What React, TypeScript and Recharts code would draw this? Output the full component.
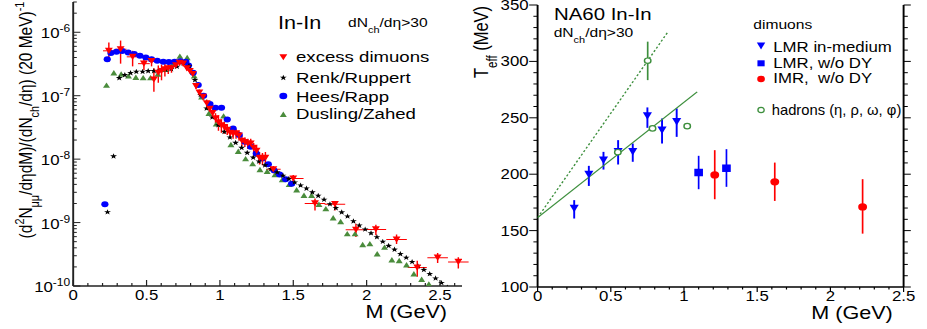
import React from 'react';
import { ScatterChart, Scatter, XAxis, YAxis, ErrorBar, Legend } from 'recharts';

const FONT = '"Liberation Sans", Arial, Helvetica, sans-serif';

// ---------------- Left panel data ----------------
const excessMass = [0.243, 0.323, 0.405, 0.482, 0.534, 0.55, 0.58, 0.602, 0.625, 0.648, 0.67, 0.7, 0.725, 0.75, 0.775, 0.795, 0.815, 0.837, 0.86, 0.885, 0.91, 0.93, 0.95, 0.97, 0.99, 1.01, 1.03, 1.05, 1.07, 1.09, 1.11, 1.13, 1.15, 1.17, 1.19, 1.21, 1.23, 1.25, 1.27, 1.29, 1.31, 1.364, 1.5, 1.648, 1.784, 1.927, 2.063, 2.204, 2.345, 2.484, 2.625];
const excessYield = [5.1e-7, 5.4e-7, 4.1e-7, 3.2e-7, 3.5e-7, 1.8e-7, 2.3e-7, 2.45e-7, 2.6e-7, 2.7e-7, 2.7e-7, 3.0e-7, 3.3e-7, 3.2e-7, 2.7e-7, 2.45e-7, 2.2e-7, 1.42e-7, 1.12e-7, 9.6e-8, 7.6e-8, 6.2e-8, 5.3e-8, 4.4e-8, 3.8e-8, 3.4e-8, 3.2e-8, 2.9e-8, 2.6e-8, 2.5e-8, 2.55e-8, 2.35e-8, 1.95e-8, 1.85e-8, 1.75e-8, 1.75e-8, 1.5e-8, 1.35e-8, 1.05e-8, 1.0e-8, 1.05e-8, 6.9e-9, 4.95e-9, 2.0e-9, 1.95e-9, 7.7e-10, 7.8e-10, 5.4e-10, 1.95e-10, 2.8e-10, 2.4e-10];
const excessLow = [3.4e-7, 3.2e-7, 2.9e-7, 2.55e-7, 2.9e-7, 1.15e-7, 1.6e-7, 1.75e-7, 2.0e-7, 2.2e-7, 2.3e-7, 2.7e-7, 3.0e-7, 2.9e-7, 2.5e-7, 2.25e-7, 2.0e-7, 1.28e-7, 1.0e-7, 8.5e-8, 6.6e-8, 5.3e-8, 4.5e-8, 3.6e-8, 2.8e-8, 2.6e-8, 2.5e-8, 2.4e-8, 2.1e-8, 2.1e-8, 2.1e-8, 1.95e-8, 1.6e-8, 1.55e-8, 1.45e-8, 1.45e-8, 1.2e-8, 1.1e-8, 8.2e-9, 8.0e-9, 8.5e-9, 6.0e-9, 4.3e-9, 1.55e-9, 1.55e-9, 5.9e-10, 6.3e-10, 4.6e-10, 1.4e-10, 2.3e-10, 1.88e-10];
const excessHigh = [6.9e-7, 7.4e-7, 5.1e-7, 3.9e-7, 4.1e-7, 2.7e-7, 3.0e-7, 3.1e-7, 3.2e-7, 3.2e-7, 3.1e-7, 3.4e-7, 3.6e-7, 3.5e-7, 2.95e-7, 2.65e-7, 2.4e-7, 1.58e-7, 1.25e-7, 1.08e-7, 8.7e-8, 7.2e-8, 6.2e-8, 5.3e-8, 4.9e-8, 4.2e-8, 3.9e-8, 3.5e-8, 3.1e-8, 3.0e-8, 3.0e-8, 2.8e-8, 2.35e-8, 2.2e-8, 2.1e-8, 2.1e-8, 1.8e-8, 1.65e-8, 1.3e-8, 1.25e-8, 1.3e-8, 7.8e-9, 5.6e-9, 2.4e-9, 2.15e-9, 9.6e-10, 9.2e-10, 6.5e-10, 2.5e-10, 3.3e-10, 2.85e-10];
const excessHalfBin = [0.04, 0.04, 0.04, 0.04, 0.02, 0.01, 0.01, 0.01, 0.01, 0.01, 0.01, 0.01, 0.01, 0.01, 0.01, 0.01, 0.01, 0.01, 0.01, 0.01, 0.01, 0.01, 0.01, 0.01, 0.01, 0.01, 0.01, 0.01, 0.01, 0.01, 0.01, 0.01, 0.01, 0.01, 0.01, 0.01, 0.01, 0.01, 0.01, 0.01, 0.01, 0.05, 0.07, 0.07, 0.07, 0.07, 0.07, 0.07, 0.065, 0.07, 0.07];

const renkMass = [0.234, 0.275, 0.314, 0.352, 0.391, 0.43, 0.473, 0.511, 0.55, 0.591, 0.63, 0.668, 0.707, 0.75, 0.789, 0.83, 0.868, 0.909, 0.948, 0.989, 1.03, 1.068, 1.107, 1.148, 1.186, 1.227, 1.266, 1.307, 1.348, 1.39, 1.43, 1.47, 1.51, 1.55, 1.59, 1.63, 1.67, 1.71, 1.75, 1.79, 1.83, 1.87, 1.91, 1.95, 1.99, 2.03, 2.07, 2.11, 2.15, 2.19, 2.23, 2.27, 2.31, 2.35, 2.39, 2.43, 2.47, 2.51, 2.55];
const renkYield = [1.46e-9, 1.11e-8, 1.9e-7, 2.12e-7, 2.28e-7, 2.39e-7, 2.39e-7, 2.45e-7, 2.45e-7, 2.5e-7, 2.55e-7, 2.63e-7, 2.87e-7, 3.24e-7, 2.94e-7, 1.77e-7, 1.03e-7, 6.3e-8, 4.55e-8, 3.44e-8, 2.7e-8, 2.2e-8, 1.81e-8, 1.51e-8, 1.26e-8, 1.06e-8, 9.2e-9, 8.0e-9, 7.0e-9, 6.2e-9, 5.5e-9, 4.9e-9, 4.3e-9, 3.85e-9, 3.45e-9, 3.0e-9, 2.65e-9, 2.3e-9, 1.95e-9, 1.7e-9, 1.45e-9, 1.25e-9, 1.05e-9, 9.0e-10, 7.8e-10, 6.8e-10, 5.9e-10, 5.0e-10, 4.3e-10, 3.75e-10, 3.2e-10, 2.8e-10, 2.4e-10, 2.05e-10, 1.8e-10, 1.55e-10, 1.32e-10, 1.12e-10, 9.5e-11];

const heesMass = [0.216, 0.232, 0.257, 0.295, 0.334, 0.375, 0.416, 0.455, 0.495, 0.534, 0.573, 0.614, 0.652, 0.691, 0.73, 0.768, 0.786, 0.818, 0.852, 0.889, 0.932, 0.97, 1.011, 1.05, 1.09, 1.132, 1.17, 1.21, 1.248, 1.289, 1.33, 1.368, 1.407, 1.448, 1.489];
const heesYield = [1.95e-9, 3.75e-7, 4.7e-7, 4.95e-7, 5.05e-7, 4.8e-7, 4.55e-7, 4.27e-7, 4.0e-7, 3.75e-7, 3.57e-7, 3.44e-7, 3.4e-7, 3.44e-7, 3.5e-7, 3.44e-7, 3.0e-7, 2.3e-7, 1.47e-7, 1.0e-7, 7.4e-8, 6.46e-8, 6.46e-8, 4.2e-8, 3.05e-8, 2.4e-8, 1.88e-8, 1.57e-8, 1.23e-8, 1.02e-8, 8.3e-9, 6.7e-9, 5.7e-9, 4.8e-9, 4.08e-9];

const duslingMass = [0.227, 0.277, 0.327, 0.377, 0.427, 0.477, 0.527, 0.577, 0.627, 0.677, 0.727, 0.777, 0.825, 0.875, 0.925, 0.975, 1.025, 1.075, 1.125, 1.175, 1.223, 1.273, 1.322, 1.375, 1.425, 1.472, 1.523, 1.573, 1.625, 1.675, 1.722, 1.772, 1.823, 1.868, 1.921, 1.973, 2.022, 2.072, 2.122, 2.172, 2.222, 2.272, 2.322, 2.375, 2.424];
const duslingYield = [1.47e-7, 2.3e-7, 2.2e-7, 2.05e-7, 1.95e-7, 1.93e-7, 1.93e-7, 2.2e-7, 2.6e-7, 3.1e-7, 4.2e-7, 4.0e-7, 2.05e-7, 9.6e-8, 5.3e-8, 3.6e-8, 4.8e-8, 1.7e-8, 1.33e-8, 1.02e-8, 8.5e-9, 6.85e-9, 6.45e-9, 5.7e-9, 4.77e-9, 4.0e-9, 3.3e-9, 2.7e-9, 2.7e-9, 1.94e-9, 1.66e-9, 1.19e-9, 1.04e-9, 6.7e-10, 6.7e-10, 4.5e-10, 4.65e-10, 3.23e-10, 4.1e-10, 2.6e-10, 2.53e-10, 2.16e-10, 1.56e-10, 1.28e-10, 1.08e-10];

const massMajorTicks = [0, 0.5, 1, 1.5, 2, 2.5];
const massTickLabels = ['0', '0.5', '1', '1.5', '2', '2.5'];
const logDecades = [-10, -9, -8, -7, -6];

// ---------------- Right panel data ----------------
const lmrMass = [0.25, 0.35, 0.45, 0.55, 0.65, 0.75, 0.85, 0.95];
const lmrTeff = [169.5, 199.7, 212.4, 219.8, 219.8, 251.5, 239, 246.4];
const lmrLow = [160.7, 189.6, 204.1, 208.6, 211, 241.1, 227.2, 233.1];
const lmrHigh = [177, 207.4, 219.8, 230.2, 227.2, 259.2, 249.4, 258.3];

const lmrDyMass = [1.1, 1.29];
const lmrDyTeff = [201.5, 205.3];
const lmrDyLow = [186.7, 188.8];
const lmrDyHigh = [216.3, 222.2];

const imrMass = [1.21, 1.62, 2.22];
const imrTeff = [199.4, 193.2, 171];
const imrLow = [177.8, 176.3, 147.3];
const imrHigh = [221.3, 210.3, 195.6];

const hadronMass = [0.548, 0.752, 0.785, 1.022];
const hadronTeff = [219.5, 300.6, 240.6, 242.6];
const hadronLow = [219.5, 283.4, 240.6, 242.6];
const hadronHigh = [219.5, 317.5, 240.6, 242.6];

const fitSolidMass = [0, 1.09];
const fitSolidTeff = [161.5, 273];
const fitDottedMass = [0, 0.892];
const fitDottedTeff = [161.5, 326.5];

const teffMajorTicks = [100, 150, 200, 250, 300, 350];
const teffTickLabels = ['100', '150', '200', '250', '300', '350'];

// ---------------- Tables ----------------
const excessData = excessMass.map((m, i) => ({
  m,
  v: excessYield[i],
  ey: [excessYield[i] - excessLow[i], excessHigh[i] - excessYield[i]],
  ex: excessHalfBin[i],
}));
const renkData = renkMass.map((m, i) => ({ m, v: renkYield[i] }));
const heesData = heesMass.map((m, i) => ({ m, v: heesYield[i] }));
const duslingData = duslingMass.map((m, i) => ({ m, v: duslingYield[i] }));

const withErr = (ms: number[], ts: number[], lo: number[], hi: number[]) =>
  ms.map((m, i) => ({ m, t: ts[i], et: [ts[i] - lo[i], hi[i] - ts[i]] }));
const lmrData = withErr(lmrMass, lmrTeff, lmrLow, lmrHigh);
const lmrDyData = withErr(lmrDyMass, lmrDyTeff, lmrDyLow, lmrDyHigh);
const imrData = withErr(imrMass, imrTeff, imrLow, imrHigh);
const hadronData = withErr(hadronMass, hadronTeff, hadronLow, hadronHigh);
const fitSolid = fitSolidMass.map((m, i) => ({ m, t: fitSolidTeff[i] }));
const fitDotted = fitDottedMass.map((m, i) => ({ m, t: fitDottedTeff[i] }));

const r1 = (v: number) => Math.round(v * 10) / 10;
const leftMassTicks: number[] = [];
for (let i = 0; i <= 26; i++) leftMassTicks.push(r1(i / 10));
const rightMassTicks: number[] = [];
for (let i = 0; i <= 25; i++) rightMassTicks.push(r1(i / 10));
const logTicks: number[] = [];
logDecades.forEach((d) => {
  for (let k = 1; k <= 9; k++) {
    const v = Number((k * Math.pow(10, d)).toPrecision(6));
    if (v <= 3e-6) logTicks.push(v);
  }
});
const teffTicks: number[] = [];
for (let v = 100; v <= 350; v += 10) teffTicks.push(v);

const LEFT_DOMAIN_X: [number, number] = [0, 2.65];
const LEFT_DOMAIN_Y: [number, number] = [1e-10, 3e-6];

// ---------------- Shapes ----------------
const downTri = (hw: number, h: number, fill: string) => (p: any) => {
  const { cx, cy } = p;
  if (cx == null || cy == null) return <g />;
  return <polygon points={`${cx - hw},${cy - h / 2} ${cx + hw},${cy - h / 2} ${cx},${cy + h / 2}`} fill={fill} />;
};
const upTri = (hw: number, h: number, fill: string) => (p: any) => {
  const { cx, cy } = p;
  if (cx == null || cy == null) return <g />;
  return <polygon points={`${cx - hw},${cy + h / 2} ${cx + hw},${cy + h / 2} ${cx},${cy - h / 2}`} fill={fill} />;
};
const starD = (cx: number, cy: number, R: number, r: number) => {
  let d = '';
  for (let i = 0; i < 10; i++) {
    const a = -Math.PI / 2 + (i * Math.PI) / 5;
    const rad = i % 2 === 0 ? R : r;
    d += (i === 0 ? 'M' : 'L') + (cx + rad * Math.cos(a)).toFixed(2) + ',' + (cy + rad * Math.sin(a)).toFixed(2);
  }
  return d + 'Z';
};
const starShape = (p: any) => {
  const { cx, cy } = p;
  if (cx == null || cy == null) return <g />;
  return <path d={starD(cx, cy, 3, 1.2)} fill="#000" />;
};
const dot = (r: number, fill: string, stroke?: string) => (p: any) => {
  const { cx, cy } = p;
  if (cx == null || cy == null) return <g />;
  return <circle cx={cx} cy={cy} r={r} fill={fill} stroke={stroke || 'none'} strokeWidth={1.2} />;
};
const square = (w: number, h: number, fill: string) => (p: any) => {
  const { cx, cy } = p;
  if (cx == null || cy == null) return <g />;
  return <rect x={cx - w / 2} y={cy - h / 2} width={w} height={h} fill={fill} />;
};
const noShape = () => <g />;

// ---------------- Ticks ----------------
const LeftXTick = (p: any) => {
  const { x, y, payload } = p;
  const v = payload.value;
  const idx = massMajorTicks.findIndex((t) => Math.abs(t - v) < 1e-6);
  const major = idx >= 0;
  return (
    <g>
      <line x1={x} x2={x} y1={y} y2={y - (major ? 6 : 3)} stroke="#222" strokeWidth={1} />
      {major && (
        <text x={x} y={y + 14} textAnchor="middle" fontSize={14} fontFamily={FONT} fill="#000">
          {massTickLabels[idx]}
        </text>
      )}
    </g>
  );
};
const LeftYTick = (p: any) => {
  const { x, y, payload } = p;
  const e = Math.log10(payload.value);
  const re = Math.round(e);
  const major = Math.abs(e - re) < 1e-6;
  return (
    <g>
      <line x1={x} x2={x + (major ? 6 : 3)} y1={y} y2={y} stroke="#222" strokeWidth={1} />
      {major && (
        <text x={x - 2.5} y={y + 6} textAnchor="end" fontSize={14} fontFamily={FONT} fill="#000">
          10<tspan dy={-6} fontSize={10}>{String(re)}</tspan>
        </text>
      )}
    </g>
  );
};
const RightXTick = (p: any) => {
  const { x, y, payload } = p;
  const v = payload.value;
  const idx = massMajorTicks.findIndex((t) => Math.abs(t - v) < 1e-6);
  const major = idx >= 0;
  return (
    <g>
      <line x1={x} x2={x} y1={y} y2={y + (major ? 5 : 2.5)} stroke="#000" strokeWidth={1} />
      {major && (
        <text x={x} y={y + 14.5} textAnchor="middle" fontSize={14} fontFamily={FONT} fill="#000">
          {massTickLabels[idx]}
        </text>
      )}
    </g>
  );
};
const RightTopTick = (p: any) => {
  const { x, y, payload } = p;
  const v = payload.value;
  const major = massMajorTicks.some((t) => Math.abs(t - v) < 1e-6);
  return <line x1={x} x2={x} y1={y} y2={y - (major ? 4 : 2)} stroke="#000" strokeWidth={1} />;
};
const RightYTick = (p: any) => {
  const { x, y, payload } = p;
  const v = payload.value;
  const idx = teffMajorTicks.indexOf(v);
  const major = idx >= 0;
  return (
    <g>
      <line x1={x} x2={x - (major ? 7 : 3.5)} y1={y} y2={y} stroke="#000" strokeWidth={1} />
      {major && (
        <text x={x - 7.5} y={y + 5} textAnchor="end" fontSize={14} fontFamily={FONT} fill="#000">
          {teffTickLabels[idx]}
        </text>
      )}
    </g>
  );
};
const RightSideTick = (p: any) => {
  const { x, y, payload } = p;
  const major = teffMajorTicks.indexOf(payload.value) >= 0;
  return <line x1={x} x2={x + (major ? 6 : 3.5)} y1={y} y2={y} stroke="#000" strokeWidth={1} />;
};

// ---------------- Overlays (titles, legends) ----------------
const SUB = { fontSize: '70%' } as const;

const LeftOverlay = () => (
  <svg width={392} height={329} style={{ position: 'absolute', left: 0, top: 0, overflow: 'visible' }} fontFamily={FONT}>
    <text transform="translate(26.5,120) rotate(-90)" textAnchor="middle" fontSize={15.5} fill="#000">
      (d<tspan baselineShift="super" style={SUB}>2</tspan>N<tspan baselineShift="sub" style={SUB}>μμ</tspan>/dηdM)/(dN
      <tspan baselineShift="sub" style={SUB}>ch</tspan>/dη) (20 MeV)<tspan baselineShift="super" style={SUB}>-1</tspan>
    </text>
    <text x={372.5} y={318.5} textAnchor="end" fontSize={18} fill="#000">M (GeV)</text>
    <text x={231.7} y={29.3} fontSize={18} fill="#000">In-In</text>
    <text x={290} y={27.3} fontSize={13} fill="#000">
      dN<tspan baselineShift="sub" style={SUB}>ch</tspan>/dη&gt;30
    </text>
    <polygon points="232.8,54.3 239.4,54.3 236.1,60.3" fill="#ff0000" />
    <path d={starD(236.1, 77.7, 3, 1.2)} fill="#000" />
    <circle cx={236.1} cy={96} r={3.3} fill="#0000ff" />
    <polygon points="233.2,117 239,117 236.1,111.5" fill="#4a8c3c" />
    <text x={246.7} y={62} fontSize={15.5} fill="#000">excess dimuons</text>
    <text x={246.7} y={83} fontSize={15.5} fill="#000">Renk/Ruppert</text>
    <text x={246.7} y={102} fontSize={15.5} fill="#000">Hees/Rapp</text>
    <text x={246.7} y={119} fontSize={15.5} fill="#000">Dusling/Zahed</text>
  </svg>
);

const RightOverlay = () => (
  <svg width={381} height={329} style={{ position: 'absolute', left: 0, top: 0, overflow: 'visible' }} fontFamily={FONT}>
    <text transform="translate(15,42) rotate(-90)" textAnchor="middle" fontSize={16.5} fill="#000">
      T<tspan baselineShift="sub" style={SUB}>eff</tspan> (MeV)
    </text>
    <text x={352} y={319} textAnchor="end" fontSize={18} fill="#000">M (GeV)</text>
    <text x={69.7} y={20} fontSize={17} fill="#000">NA60 In-In</text>
    <text x={69.4} y={37.3} fontSize={13} fill="#000">
      dN<tspan baselineShift="sub" style={SUB}>ch</tspan>/dη&gt;30
    </text>
    <text x={235.8} y={29.5} fontSize={13} fill="#000">dimuons</text>
    <polygon points="238.7,42.5 245.7,42.5 242.2,49.5" fill="#0000ff" />
    <rect x={239.2} y={60.3} width={6} height={6} fill="#0000ff" />
    <circle cx={242.2} cy={79} r={3.2} fill="#ff0000" />
    <circle cx={242.2} cy={110} r={2.6} fill="#fff" stroke="#3d8f3d" strokeWidth={1.1} />
    <text x={252.4} y={51.7} fontSize={14} fill="#000">LMR in-medium</text>
    <text x={252.4} y={68.3} fontSize={14} fill="#000">LMR, w/o DY</text>
    <text x={252.4} y={83.3} fontSize={14} fill="#000" style={{ whiteSpace: 'pre' }}>IMR,  w/o DY</text>
    <text x={251.1} y={115} fontSize={14} fill="#000" textLength={108} lengthAdjust="spacingAndGlyphs">hadrons (η, ρ, ω, φ)</text>
  </svg>
);

const overlayWrap = (w: number) => ({
  position: 'absolute' as const,
  left: 0,
  top: 0,
  width: w,
  height: 329,
  pointerEvents: 'none' as const,
});

// ---------------- Panels ----------------
const LeftPanel = () => (
  <ScatterChart width={392} height={329} margin={{ top: 2, right: 7, bottom: 0, left: 0 }} style={{ fontFamily: FONT }}>
    <XAxis
      type="number"
      dataKey="m"
      domain={LEFT_DOMAIN_X}
      allowDataOverflow
      ticks={leftMassTicks}
      interval={0}
      tickSize={0}
      tickMargin={0}
      height={43}
      tickLine={false}
      axisLine={{ stroke: '#222', strokeWidth: 1.6 }}
      tick={(p: any) => <LeftXTick {...p} />}
    />
    <XAxis xAxisId="top" orientation="top" type="number" domain={LEFT_DOMAIN_X} allowDataOverflow height={0} tick={false} tickLine={false} axisLine={{ stroke: '#222', strokeWidth: 1.6 }} />
    <YAxis
      type="number"
      dataKey="v"
      scale="log"
      domain={LEFT_DOMAIN_Y}
      allowDataOverflow
      ticks={logTicks}
      interval={0}
      tickSize={0}
      tickMargin={0}
      width={61}
      tickLine={false}
      axisLine={{ stroke: '#222', strokeWidth: 1.6 }}
      tick={(p: any) => <LeftYTick {...p} />}
    />
    <YAxis yAxisId="right" orientation="right" type="number" domain={[0, 1]} allowDataOverflow width={0} tick={false} tickLine={false} axisLine={{ stroke: '#222', strokeWidth: 1.6 }} />
    <Scatter data={duslingData} shape={upTri(2.9, 5.4, '#4a8c3c')} isAnimationActive={false} />
    <Scatter data={heesData} shape={dot(3, '#0000ff')} isAnimationActive={false} />
    <Scatter data={renkData} shape={starShape} isAnimationActive={false} />
    <Scatter data={excessData} shape={downTri(3.3, 6.2, '#ff0000')} isAnimationActive={false}>
      <ErrorBar dataKey="ey" direction="y" width={0} stroke="#ff0000" strokeWidth={1.2} />
      <ErrorBar dataKey="ex" direction="x" width={0} stroke="#ff0000" strokeWidth={1} />
    </Scatter>
    <Legend
      verticalAlign="middle"
      align="center"
      layout="horizontal"
      wrapperStyle={overlayWrap(392)}
      content={() => <LeftOverlay />}
    />
  </ScatterChart>
);

const RightPanel = () => (
  <ScatterChart width={381} height={329} margin={{ top: 5, right: 8, bottom: 0, left: 0 }} style={{ fontFamily: FONT }}>
    <XAxis
      type="number"
      dataKey="m"
      domain={[0, 2.5]}
      allowDataOverflow
      ticks={rightMassTicks}
      interval={0}
      tickSize={0}
      tickMargin={0}
      height={42}
      tickLine={false}
      axisLine={{ stroke: '#000', strokeWidth: 1.6 }}
      tick={(p: any) => <RightXTick {...p} />}
    />
    <XAxis
      xAxisId="top"
      orientation="top"
      type="number"
      domain={[0, 2.5]}
      allowDataOverflow
      ticks={rightMassTicks}
      interval={0}
      tickSize={0}
      tickMargin={0}
      height={0}
      tickLine={false}
      axisLine={{ stroke: '#000', strokeWidth: 1.6 }}
      tick={(p: any) => <RightTopTick {...p} />}
    />
    <YAxis
      type="number"
      dataKey="t"
      domain={[100, 350]}
      allowDataOverflow
      ticks={teffTicks}
      interval={0}
      tickSize={0}
      tickMargin={0}
      width={56}
      tickLine={false}
      axisLine={{ stroke: '#000', strokeWidth: 1.6 }}
      tick={(p: any) => <RightYTick {...p} />}
    />
    <YAxis
      yAxisId="right"
      orientation="right"
      type="number"
      domain={[100, 350]}
      allowDataOverflow
      ticks={teffTicks}
      interval={0}
      tickSize={0}
      tickMargin={0}
      width={12}
      tickLine={false}
      axisLine={{ stroke: '#000', strokeWidth: 1.6 }}
      tick={(p: any) => <RightSideTick {...p} />}
    />
    <Scatter data={fitDotted} line={{ stroke: '#3d8f3d', strokeWidth: 1.2, strokeDasharray: '2 2' }} shape={noShape} isAnimationActive={false} />
    <Scatter data={fitSolid} line={{ stroke: '#3d8f3d', strokeWidth: 1.2 }} shape={noShape} isAnimationActive={false} />
    <Scatter data={lmrData} shape={downTri(3.8, 7.5, '#0000ff')} isAnimationActive={false}>
      <ErrorBar dataKey="et" direction="y" width={0} stroke="#0000ff" strokeWidth={1.6} />
    </Scatter>
    <Scatter data={lmrDyData} shape={square(7.2, 7.5, '#0000ff')} isAnimationActive={false}>
      <ErrorBar dataKey="et" direction="y" width={0} stroke="#0000ff" strokeWidth={1.4} />
    </Scatter>
    <Scatter data={imrData} shape={dot(3.7, '#ff0000')} isAnimationActive={false}>
      <ErrorBar dataKey="et" direction="y" width={0} stroke="#ff0000" strokeWidth={1.4} />
    </Scatter>
    <Scatter data={hadronData} shape={dot(2.7, '#ffffff', '#3d8f3d')} isAnimationActive={false}>
      <ErrorBar dataKey="et" direction="y" width={0} stroke="#3d8f3d" strokeWidth={1.4} />
    </Scatter>
    <Legend
      verticalAlign="middle"
      align="center"
      layout="horizontal"
      wrapperStyle={overlayWrap(381)}
      content={() => <RightOverlay />}
    />
  </ScatterChart>
);

export default function App() {
  return (
    <div style={{ position: 'absolute', left: 0, top: 0, width: 927, height: 329, overflow: 'hidden', background: '#fff' }}>
      <div
        style={{
          position: 'absolute',
          left: 0,
          top: 0,
          width: 773,
          height: 329,
          transform: 'scaleX(1.2)',
          transformOrigin: '0 0',
          display: 'flex',
        }}
      >
        <div style={{ flex: '0 0 392px', position: 'relative' }}>
          <LeftPanel />
        </div>
        <div style={{ flex: '0 0 381px', position: 'relative' }}>
          <RightPanel />
        </div>
      </div>
    </div>
  );
}
